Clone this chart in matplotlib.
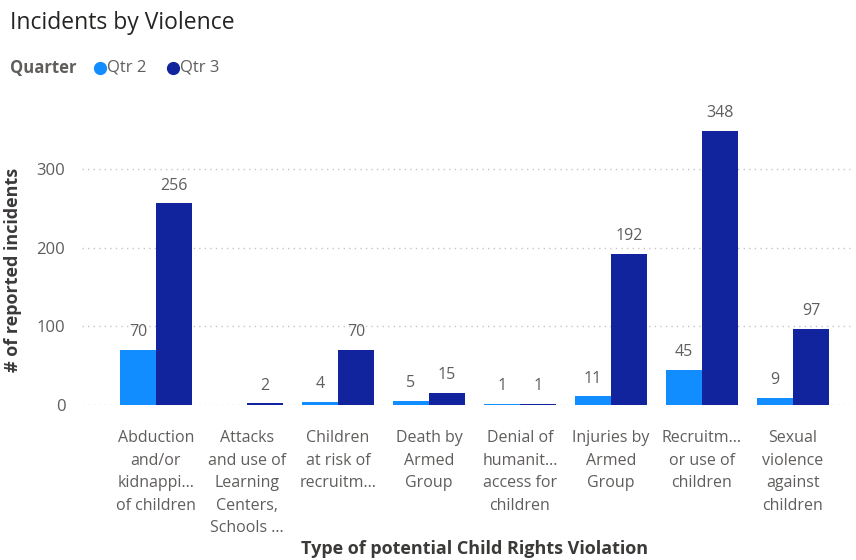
import numpy as np
import matplotlib.pyplot as plt
from matplotlib.lines import Line2D

plt.rcParams['font.family'] = ['Open Sans', 'DejaVu Sans']

categories = [
    "Abduction\nand/or\nkidnappi...\nof children",
    "Attacks\nand use of\nLearning\nCenters,\nSchools ...",
    "Children\nat risk of\nrecruitm...",
    "Death by\nArmed\nGroup",
    "Denial of\nhumanit...\naccess for\nchildren",
    "Injuries by\nArmed\nGroup",
    "Recruitm...\nor use of\nchildren",
    "Sexual\nviolence\nagainst\nchildren",
]
qtr2 = [70, np.nan, 4, 5, 1, 11, 45, 9]
qtr3 = [256, 2, 70, 15, 1, 192, 348, 97]

c2 = "#118DFF"
c3 = "#12239E"
label_col = "#605E5C"
dark = "#3B3A39"

fig = plt.figure(figsize=(8.56, 5.6), dpi=100)
ax = fig.add_axes([82 / 856, 1 - 405 / 560, (852 - 82) / 856, 315 / 560])

x = np.arange(len(categories))
w = 0.396
b2 = ax.bar(x - w / 2, qtr2, w, color=c2, zorder=3)
b3 = ax.bar(x + w / 2, qtr3, w, color=c3, zorder=3)

for bars, vals in ((b2, qtr2), (b3, qtr3)):
    for rect, v in zip(bars, vals):
        if np.isnan(v):
            continue
        ax.annotate(f"{v:g}", (rect.get_x() + rect.get_width() / 2, v),
                    xytext=(0, 7), textcoords="offset points",
                    ha="center", va="bottom", fontsize=11.5, color=label_col)

ax.set_xlim(-0.813, 7.65)
ax.set_ylim(0, 400)
ax.set_yticks([0, 100, 200, 300])
ax.yaxis.grid(True, linestyle=(0, (1, 3)), color="#C8C6C4", linewidth=1, zorder=0)
ax.set_xticks(x)
ax.set_xticklabels(categories, fontsize=11.5, color=label_col, linespacing=1.55, va="top")
ax.tick_params(axis="x", length=0, pad=18)
ax.tick_params(axis="y", length=0, pad=12, labelsize=12, labelcolor=label_col)
for s in ax.spines.values():
    s.set_visible(False)

ax.set_ylabel("# of reported incidents", fontsize=13, color=dark, fontweight="bold")
ax.yaxis.set_label_coords(-(82 - 22) / 770, 0.43)
fig.text(475 / 856, 1 - 549 / 560, "Type of potential Child Rights Violation",
         ha="center", va="center", fontsize=13, color=dark, fontweight="bold")

fig.text(10 / 856, 1 - 23 / 560, "Incidents by Violence", ha="left", va="center",
         fontsize=16.5, color="#252423")

# legend row
fig.text(10 / 856, 1 - 68 / 560, "Quarter", ha="left", va="center",
         fontsize=12, color=label_col, fontweight="bold")
for xp, col, lab in ((100, c2, "Qtr 2"), (173, c3, "Qtr 3")):
    fig.add_artist(Line2D([xp / 856], [1 - 68 / 560], marker="o", markersize=8.5,
                          color=col, linestyle="none", transform=fig.transFigure))
    fig.text((xp + 7) / 856, 1 - 68 / 560, lab, ha="left", va="center",
             fontsize=12, color=label_col)

fig.savefig("out.png", dpi=100)
